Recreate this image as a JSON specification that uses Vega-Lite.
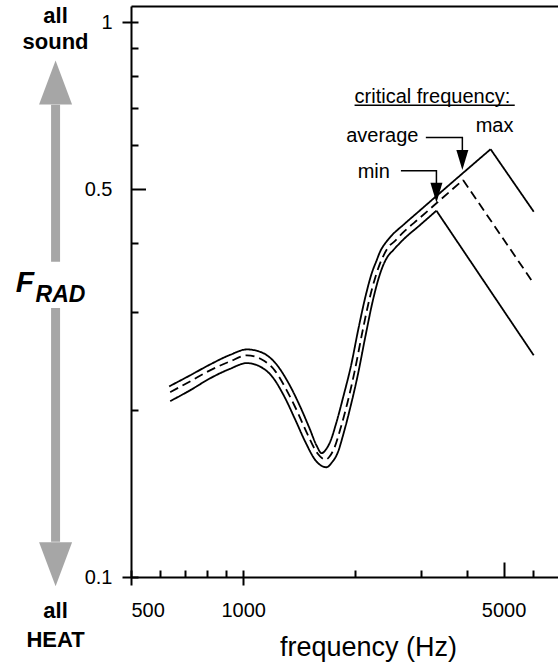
{
  "$schema": "https://vega.github.io/schema/vega-lite/v6.json",
  "width": 427,
  "height": 571,
  "autosize": {"type": "none"},
  "padding": {"left": 131, "top": 6, "right": 0, "bottom": 85},
  "background": "white",
  "config": {
    "view": {"stroke": null},
    "font": "Liberation Sans",
    "axis": {"grid": false, "domainColor": "black", "tickColor": "black", "labelColor": "black", "titleColor": "black"}
  },
  "datasets": {
    "curves": [
      {"curve": "max", "f": 633, "F": 0.2206}, {"curve": "max", "f": 720, "F": 0.2309}, {"curve": "max", "f": 815, "F": 0.2416},
      {"curve": "max", "f": 922, "F": 0.2514}, {"curve": "max", "f": 1023, "F": 0.2572}, {"curve": "max", "f": 1122, "F": 0.2540},
      {"curve": "max", "f": 1223, "F": 0.2426}, {"curve": "max", "f": 1325, "F": 0.2234}, {"curve": "max", "f": 1418, "F": 0.2038},
      {"curve": "max", "f": 1508, "F": 0.1852}, {"curve": "max", "f": 1574, "F": 0.1726}, {"curve": "max", "f": 1624, "F": 0.1672},
      {"curve": "max", "f": 1664, "F": 0.1694}, {"curve": "max", "f": 1716, "F": 0.1759}, {"curve": "max", "f": 1781, "F": 0.1903},
      {"curve": "max", "f": 1859, "F": 0.2120}, {"curve": "max", "f": 1947, "F": 0.2401}, {"curve": "max", "f": 2044, "F": 0.2826},
      {"curve": "max", "f": 2142, "F": 0.3255}, {"curve": "max", "f": 2219, "F": 0.3545}, {"curve": "max", "f": 2278, "F": 0.3711},
      {"curve": "max", "f": 2335, "F": 0.3869}, {"curve": "max", "f": 2408, "F": 0.3999}, {"curve": "max", "f": 2499, "F": 0.4121},
      {"curve": "max", "f": 2707, "F": 0.4328}, {"curve": "max", "f": 2969, "F": 0.4568}, {"curve": "max", "f": 3302, "F": 0.4862},
      {"curve": "max", "f": 3893, "F": 0.5351}, {"curve": "max", "f": 4615, "F": 0.5905},

      {"curve": "average", "f": 637, "F": 0.2154}, {"curve": "average", "f": 720, "F": 0.2252}, {"curve": "average", "f": 815, "F": 0.2358},
      {"curve": "average", "f": 922, "F": 0.2447}, {"curve": "average", "f": 1023, "F": 0.2509}, {"curve": "average", "f": 1122, "F": 0.2467},
      {"curve": "average", "f": 1215, "F": 0.2358}, {"curve": "average", "f": 1309, "F": 0.2170}, {"curve": "average", "f": 1401, "F": 0.1980},
      {"curve": "average", "f": 1489, "F": 0.1807}, {"curve": "average", "f": 1584, "F": 0.1670}, {"curve": "average", "f": 1664, "F": 0.1627},
      {"curve": "average", "f": 1706, "F": 0.1649}, {"curve": "average", "f": 1759, "F": 0.1712}, {"curve": "average", "f": 1825, "F": 0.1852},
      {"curve": "average", "f": 1906, "F": 0.2064}, {"curve": "average", "f": 1989, "F": 0.2338}, {"curve": "average", "f": 2086, "F": 0.2750},
      {"curve": "average", "f": 2182, "F": 0.3168}, {"curve": "average", "f": 2264, "F": 0.3472}, {"curve": "average", "f": 2321, "F": 0.3650},
      {"curve": "average", "f": 2378, "F": 0.3790}, {"curve": "average", "f": 2453, "F": 0.3933}, {"curve": "average", "f": 2545, "F": 0.4024},
      {"curve": "average", "f": 2707, "F": 0.4198}, {"curve": "average", "f": 2969, "F": 0.4431}, {"curve": "average", "f": 3296, "F": 0.4713},
      {"curve": "average", "f": 3893, "F": 0.5197},

      {"curve": "min", "f": 637, "F": 0.2075}, {"curve": "min", "f": 720, "F": 0.2170}, {"curve": "min", "f": 815, "F": 0.2281},
      {"curve": "min", "f": 922, "F": 0.2373}, {"curve": "min", "f": 1023, "F": 0.2430}, {"curve": "min", "f": 1108, "F": 0.2397},
      {"curve": "min", "f": 1201, "F": 0.2290}, {"curve": "min", "f": 1293, "F": 0.2108}, {"curve": "min", "f": 1383, "F": 0.1915},
      {"curve": "min", "f": 1471, "F": 0.1748}, {"curve": "min", "f": 1565, "F": 0.1622}, {"curve": "min", "f": 1674, "F": 0.1577},
      {"curve": "min", "f": 1727, "F": 0.1606}, {"curve": "min", "f": 1795, "F": 0.1677}, {"curve": "min", "f": 1863, "F": 0.1822},
      {"curve": "min", "f": 1945, "F": 0.2038}, {"curve": "min", "f": 2030, "F": 0.2309}, {"curve": "min", "f": 2129, "F": 0.2716},
      {"curve": "min", "f": 2227, "F": 0.3142}, {"curve": "min", "f": 2311, "F": 0.3458}, {"curve": "min", "f": 2371, "F": 0.3634},
      {"curve": "min", "f": 2438, "F": 0.3774}, {"curve": "min", "f": 2530, "F": 0.3885}, {"curve": "min", "f": 2707, "F": 0.4074},
      {"curve": "min", "f": 2969, "F": 0.4298}, {"curve": "min", "f": 3302, "F": 0.4575}
    ],
    "falloff": [
      {"curve": "max", "f": 4615, "F": 0.5905}, {"curve": "max", "f": 6025, "F": 0.4556},
      {"curve": "average", "f": 3893, "F": 0.5197}, {"curve": "average", "f": 6025, "F": 0.3381},
      {"curve": "min", "f": 3302, "F": 0.4575}, {"curve": "min", "f": 6025, "F": 0.2510}
    ]
  },
  "resolve": {"axis": {"x": "independent", "y": "independent"}},
  "layer": [
    {
      "data": {"name": "curves"},
      "mark": {"type": "line", "interpolate": "monotone", "color": "black", "strokeWidth": 1.8},
      "encoding": {
        "x": {
          "field": "f", "type": "quantitative",
          "scale": {"type": "log", "domain": [500, 7000], "nice": false},
          "axis": {
            "orient": "bottom",
            "values": [500, 1000, 5000], "format": "d",
            "domainWidth": 2, "tickWidth": 2, "tickSize": 8,
            "tickOpacity": {"condition": {"test": "datum.value === 5000", "value": 0}, "value": 1},
            "labelFontSize": 20, "labelPadding": 15,
            "title": "frequency (Hz)", "titleFontSize": 27, "titleFontWeight": "normal",
            "titleX": 237, "titleY": 78, "titleAlign": "center", "titleBaseline": "alphabetic"
          }
        },
        "y": {
          "field": "F", "type": "quantitative",
          "scale": {"type": "log", "domain": [0.1, 1.07], "nice": false},
          "axis": {
            "orient": "left",
            "values": [0.1, 0.5, 1], "format": "~g",
            "domainWidth": 2, "tickWidth": 2, "tickSize": 9,
            "tickOpacity": {"condition": {"test": "datum.value === 0.5", "value": 0}, "value": 1},
            "labelFontSize": 20, "labelPadding": 10, "title": null
          }
        },
        "detail": {"field": "curve"},
        "strokeDash": {
          "field": "curve", "type": "nominal",
          "scale": {"domain": ["min", "average", "max"], "range": [[1, 0], [9, 5], [1, 0]]},
          "legend": null
        }
      }
    },
    {
      "data": {"name": "falloff"},
      "mark": {"type": "line", "color": "black", "strokeWidth": 1.8},
      "encoding": {
        "x": {
          "field": "f", "type": "quantitative",
          "scale": {"type": "log", "domain": [500, 7000], "nice": false},
          "axis": {
            "orient": "bottom",
            "values": [500, 600, 700, 800, 900, 1000, 2000, 3000, 4000, 5000, 6000],
            "labels": false, "domain": false, "title": null, "tickWidth": 2,
            "tickSize": {"condition": {"test": "datum.value === 5000", "value": -15}, "value": -7}
          }
        },
        "y": {
          "field": "F", "type": "quantitative",
          "scale": {"type": "log", "domain": [0.1, 1.07], "nice": false},
          "axis": {
            "orient": "left",
            "values": [0.1, 0.2, 0.3, 0.4, 0.5, 0.6, 0.7, 0.8, 0.9, 1],
            "labels": false, "domain": false, "title": null, "tickWidth": 2,
            "tickSize": {"condition": {"test": "datum.value === 0.5", "value": -14.5}, "value": -7}
          }
        },
        "detail": {"field": "curve"},
        "strokeDash": {
          "field": "curve", "type": "nominal",
          "scale": {"domain": ["min", "average", "max"], "range": [[1, 0], [9, 5], [1, 0]]},
          "legend": null
        }
      }
    },
    {
      "data": {"values": [
        {"segment": "upper", "f": 313.7, "F": 0.71, "F2": 0.37},
        {"segment": "lower", "f": 313.7, "F": 0.3056, "F2": 0.1158}
      ]},
      "mark": {"type": "rule", "color": "#a6a6a6", "strokeWidth": 9},
      "encoding": {
        "x": {
          "field": "f", "type": "quantitative",
          "axis": {"orient": "top", "ticks": false, "labels": false, "title": null, "domainWidth": 2}
        },
        "y": {"field": "F", "type": "quantitative", "axis": null},
        "y2": {"field": "F2"}
      }
    },
    {
      "data": {"values": [{"end": "sound", "f": 313.7, "F": 0.7787}]},
      "mark": {"type": "point", "shape": "M0,-1L0.75,1L-0.75,1Z", "size": 1936, "filled": true, "color": "#a6a6a6", "opacity": 1, "strokeWidth": 0},
      "encoding": {
        "x": {"field": "f", "type": "quantitative", "axis": null},
        "y": {"field": "F", "type": "quantitative", "axis": null}
      }
    },
    {
      "data": {"values": [{"end": "heat", "f": 313.7, "F": 0.1054}]},
      "mark": {"type": "point", "shape": "M0,1L0.75,-1L-0.75,-1Z", "size": 1936, "filled": true, "color": "#a6a6a6", "opacity": 1, "strokeWidth": 0},
      "encoding": {
        "x": {"field": "f", "type": "quantitative", "axis": null},
        "y": {"field": "F", "type": "quantitative", "axis": null}
      }
    },
    {
      "data": {"values": [
        {"t": "all", "f": 313.7, "F": 0.9988},
        {"t": "sound", "f": 313.7, "F": 0.8964},
        {"t": "all", "f": 313.7, "F": 0.0844},
        {"t": "HEAT", "f": 313.7, "F": 0.0748}
      ]},
      "mark": {"type": "text", "fontSize": 22, "fontWeight": "bold", "align": "center", "baseline": "alphabetic", "color": "black"},
      "encoding": {
        "x": {"field": "f", "type": "quantitative", "axis": null},
        "y": {"field": "F", "type": "quantitative", "axis": null},
        "text": {"field": "t"}
      }
    },
    {
      "data": {"values": [{"t": "F", "f": 245.1, "F": 0.3266}]},
      "mark": {"type": "text", "fontSize": 30, "fontWeight": "bold", "fontStyle": "italic", "align": "left", "baseline": "alphabetic", "color": "black"},
      "encoding": {
        "x": {"field": "f", "type": "quantitative", "axis": null},
        "y": {"field": "F", "type": "quantitative", "axis": null},
        "text": {"field": "t"}
      }
    },
    {
      "data": {"values": [{"t": "RAD", "f": 277.3, "F": 0.3132}]},
      "mark": {"type": "text", "fontSize": 23, "fontWeight": "bold", "fontStyle": "italic", "align": "left", "baseline": "alphabetic", "color": "black"},
      "encoding": {
        "x": {"field": "f", "type": "quantitative", "axis": null},
        "y": {"field": "F", "type": "quantitative", "axis": null},
        "text": {"field": "t"}
      }
    },
    {
      "data": {"values": [
        {"t": "critical frequency:", "f": 1991, "F": 0.7150},
        {"t": "max", "f": 4209, "F": 0.6343},
        {"t": "average", "f": 1890, "F": 0.6085},
        {"t": "min", "f": 2030, "F": 0.5234}
      ]},
      "mark": {"type": "text", "fontSize": 20, "align": "left", "baseline": "alphabetic", "color": "black"},
      "encoding": {
        "x": {"field": "f", "type": "quantitative", "axis": null},
        "y": {"field": "F", "type": "quantitative", "axis": null},
        "text": {"field": "t"}
      }
    },
    {
      "data": {"values": [{"f": 1991, "f2": 5358, "F": 0.7086}]},
      "mark": {"type": "rule", "color": "black", "strokeWidth": 1.5},
      "encoding": {
        "x": {"field": "f", "type": "quantitative", "axis": null},
        "x2": {"field": "f2"},
        "y": {"field": "F", "type": "quantitative", "axis": null}
      }
    },
    {
      "data": {"values": [
        {"leader": "average", "i": 0, "f": 3093, "F": 0.6197},
        {"leader": "average", "i": 1, "f": 3876, "F": 0.6197},
        {"leader": "average", "i": 2, "f": 3876, "F": 0.5839},
        {"leader": "min", "i": 0, "f": 2651, "F": 0.5402},
        {"leader": "min", "i": 1, "f": 3302, "F": 0.5402},
        {"leader": "min", "i": 2, "f": 3302, "F": 0.5089}
      ]},
      "mark": {"type": "line", "color": "black", "strokeWidth": 1.5},
      "encoding": {
        "x": {"field": "f", "type": "quantitative", "axis": null},
        "y": {"field": "F", "type": "quantitative", "axis": null},
        "detail": {"field": "leader"},
        "order": {"field": "i"}
      }
    },
    {
      "data": {"values": [
        {"leader": "average", "f": 3876, "F": 0.5648},
        {"leader": "min", "f": 3302, "F": 0.4927}
      ]},
      "mark": {"type": "point", "shape": "M0,1L0.6,-1L-0.6,-1Z", "size": 400, "filled": true, "color": "black", "opacity": 1, "strokeWidth": 0},
      "encoding": {
        "x": {"field": "f", "type": "quantitative", "axis": null},
        "y": {"field": "F", "type": "quantitative", "axis": null}
      }
    }
  ]
}
